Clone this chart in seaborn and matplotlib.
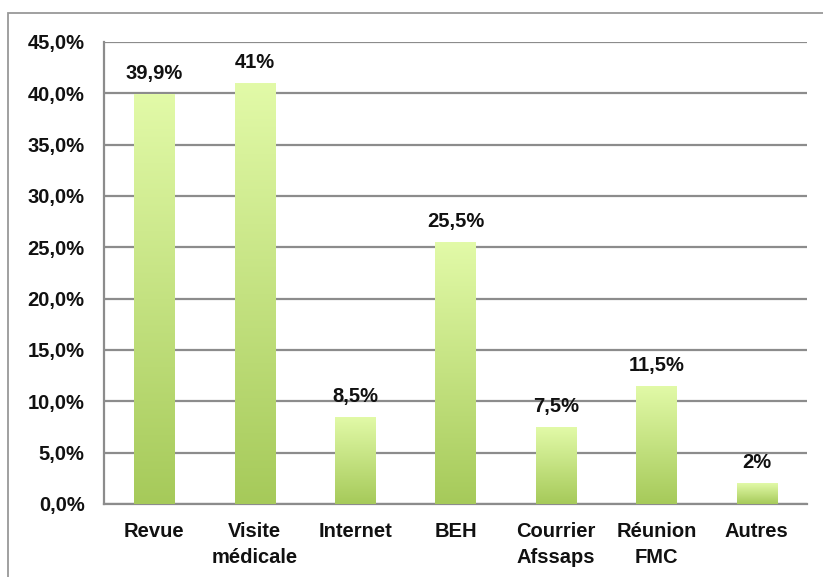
import numpy as np
import pandas as pd
import seaborn as sns
import matplotlib.pyplot as plt
from matplotlib.colors import LinearSegmentedColormap
from matplotlib.patches import Rectangle

categories = ["Revue", "Visite\nmédicale", "Internet", "BEH",
              "Courrier\nAfssaps", "Réunion\nFMC", "Autres"]
values = [39.9, 41.0, 8.5, 25.5, 7.5, 11.5, 2.0]
value_labels = ["39,9%", "41%", "8,5%", "25,5%", "7,5%", "11,5%", "2%"]
yticks = [0, 5, 10, 15, 20, 25, 30, 35, 40, 45]
ytick_labels = ["0,0%", "5,0%", "10,0%", "15,0%", "20,0%", "25,0%",
                "30,0%", "35,0%", "40,0%", "45,0%"]

FS = 14.5


def main():
    sns.set_style("white")
    plt.rcParams['font.family'] = ['Liberation Sans', 'DejaVu Sans']
    plt.rcParams['font.weight'] = 'bold'

    df = pd.DataFrame({'cat': categories, 'val': values})

    fig = plt.figure(figsize=(8.23, 5.77), dpi=100)
    ax = fig.add_axes([104 / 823, 1 - 504 / 577, 703 / 823, 462 / 577])

    sns.barplot(data=df, x='cat', y='val', ax=ax, width=0.4,
                color='#c0e080', saturation=1, zorder=3)

    # vertical gradient for each bar, light at top
    cmap = LinearSegmentedColormap.from_list('g', ['#a6ca5a', '#e2faa8'])
    grad = np.linspace(0, 1, 256).reshape(-1, 1)
    for patch in ax.patches:
        x0, y0 = patch.get_x(), patch.get_y()
        w, h = patch.get_width(), patch.get_height()
        im = ax.imshow(grad, cmap=cmap, origin='lower', aspect='auto',
                       extent=[x0, x0 + w, y0, y0 + h], zorder=3)
        im.set_clip_path(patch)
        patch.set_facecolor('none')
        patch.set_edgecolor('none')

    for i, (v, lab) in enumerate(zip(values, value_labels)):
        ax.annotate(lab, (i, v), xytext=(0, 8), textcoords='offset points',
                    ha='center', va='bottom', fontsize=FS, fontweight='bold',
                    color='#111111', zorder=4)

    ax.set_xlim(-0.5, len(categories) - 0.5)
    ax.set_ylim(0, 45)
    ax.set_yticks(yticks)
    ax.set_yticklabels(ytick_labels)
    ax.yaxis.grid(True, color='#8c8c8c', linewidth=1.6, zorder=0)
    ax.set_axisbelow(True)
    ax.set_xlabel('')
    ax.set_ylabel('')

    for side in ['top', 'right']:
        ax.spines[side].set_visible(False)
    for side in ['left', 'bottom']:
        ax.spines[side].set_color('#8c8c8c')
        ax.spines[side].set_linewidth(1.6)

    ax.set_xticks(np.arange(len(categories)))
    ax.set_xticklabels(categories, linespacing=1.45)
    ax.set_xticks(np.arange(-0.5, len(categories)), minor=True)
    ax.tick_params(axis='x', which='major', length=0, pad=13, labelsize=FS,
                   labelcolor='#111111')
    ax.tick_params(axis='x', which='minor', length=6, width=1.6,
                   color='#8c8c8c', direction='out')
    ax.tick_params(axis='y', length=6, width=1.6, color='#8c8c8c',
                   direction='out', labelsize=FS, labelcolor='#111111', pad=8)
    for t in ax.get_xticklabels() + ax.get_yticklabels():
        t.set_fontweight('bold')

    # outer chart border, cut off at right and bottom like the source image
    fig.patches.append(Rectangle((8 / 823, -0.1), 1.0, 1.1 - 13 / 577,
                                 transform=fig.transFigure, fill=False,
                                 edgecolor='#999999', linewidth=1.3))

    fig.savefig('out.png', dpi=100)


if __name__ == "__main__":
    main()
